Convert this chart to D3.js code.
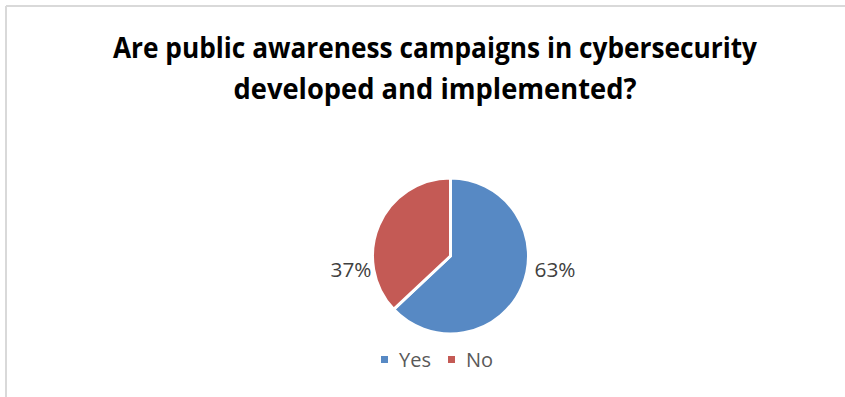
<!DOCTYPE html>
<html>
<head>
<meta charset="utf-8">
<script src="https://cdn.jsdelivr.net/npm/d3@7"></script>
<style>
  html, body { margin: 0; padding: 0; background: #fff; }
  svg { display: block; }
</style>
</head>
<body>
<svg id="chart" width="845" height="397"></svg>
<script>
const titleLines = ["Are public awareness campaigns in cybersecurity", "developed and implemented?"];
const categories = ["Yes", "No"];
const values = [63, 37];
const colors = ["#5789c4", "#c45a55"];

const svg = d3.select("#chart");
const W = 845, H = 397;

// frame
svg.append("line").attr("x1", 6).attr("x2", W).attr("y1", 6).attr("y2", 6)
  .attr("stroke", "#d9d9d9").attr("stroke-width", 2);
svg.append("line").attr("x1", 6).attr("x2", 6).attr("y1", 6).attr("y2", H)
  .attr("stroke", "#d9d9d9").attr("stroke-width", 2);

// title
const titleFont = "'Liberation Sans Narrow', 'Open Sans', 'Liberation Sans', sans-serif";
const titleWidths = [644, 403];
titleLines.forEach((t, i) => {
  svg.append("text")
    .attr("x", 435).attr("y", 58 + i * 41)
    .attr("text-anchor", "middle")
    .attr("font-family", titleFont)
    .attr("font-weight", "bold")
    .attr("font-size", 29)
    .attr("fill", "#000")
    .attr("textLength", titleWidths[i])
    .attr("lengthAdjust", "spacingAndGlyphs")
    .text(t);
});

// pie
const cx = 450.5, cy = 256, r = 78;
const pie = d3.pie().sort(null).value(d => d.v);
const arcs = pie(categories.map((c, i) => ({ c, v: values[i] })));
const arc = d3.arc().innerRadius(0).outerRadius(r);
const g = svg.append("g").attr("transform", `translate(${cx},${cy})`);
g.selectAll("path").data(arcs).join("path")
  .attr("d", arc)
  .attr("fill", (d, i) => colors[i])
  .attr("stroke", "#fff")
  .attr("stroke-width", 3)
  .attr("stroke-linejoin", "round");

// data labels beside the pie
const labelFont = "'Open Sans', 'Liberation Sans', sans-serif";
g.selectAll("text.val").data(arcs).join("text")
  .attr("class", "val")
  .attr("x", d => Math.sin((d.startAngle + d.endAngle) / 2) > 0 ? r + 6 : -r - 1)
  .attr("y", 21)
  .attr("text-anchor", d => Math.sin((d.startAngle + d.endAngle) / 2) > 0 ? "start" : "end")
  .attr("font-family", labelFont)
  .attr("font-size", 20)
  .attr("fill", "#404040")
  .attr("textLength", 41)
  .attr("lengthAdjust", "spacingAndGlyphs")
  .text(d => d.data.v + "%");

// legend
const legend = svg.append("g").attr("transform", "translate(381,360)");
const legendX = [0, 67];
categories.forEach((c, i) => {
  const lg = legend.append("g").attr("transform", `translate(${legendX[i]},0)`);
  lg.append("rect").attr("x", 0).attr("y", -4).attr("width", 7).attr("height", 7)
    .attr("fill", colors[i]);
  lg.append("text").attr("x", 18).attr("y", 7)
    .attr("font-family", labelFont)
    .attr("font-size", 20)
    .attr("fill", "#595959")
    .text(c);
});
</script>
</body>
</html>
